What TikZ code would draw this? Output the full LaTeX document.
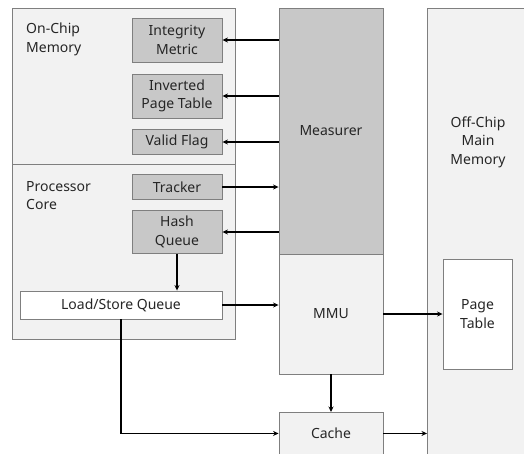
\documentclass[tikz,border=0pt]{standalone}
\usepackage{fontspec}
\setmainfont{Noto Sans}
\usetikzlibrary{arrows.meta}
\definecolor{lightbg}{HTML}{F2F2F2}
\definecolor{midgray}{HTML}{C8C8C8}
\definecolor{edgegray}{HTML}{7F7F7F}
\definecolor{txt}{HTML}{262626}
\tikzset{
  box/.style={draw=edgegray, line width=0.9pt, minimum width=#1, inner sep=0pt, align=center, text=txt, font=\fontsize{14}{18.5}\selectfont},
  graybox/.style={box=90pt, fill=midgray},
  conn/.style={line width=1.8pt, -{Stealth[length=5.5pt,width=5pt]}},
  lbl/.style={align=left, anchor=north west, inner sep=0pt, text=txt, font=\fontsize{14}{18.5}\selectfont}
}
\begin{document}
\begin{tikzpicture}[x=1pt,y=-1pt]
\useasboundingbox (0,0) rectangle (524,453);
\clip (0,0) rectangle (524,453);
\node[box=223pt, fill=lightbg, minimum height=156pt] (onchip) at (123.5,86) {};
\node[box=223pt, fill=lightbg, minimum height=175pt] (proc) at (123.5,251.5) {};
\node[lbl] (onchiplbl) at (26,23) {On-Chip\\Memory};
\node[lbl] (proclbl) at (26,181) {Processor\\Core};
\node[graybox, minimum height=44pt] (im) at (177,40) {Integrity\\Metric};
\node[graybox, minimum height=44pt] (ipt) at (177,96) {Inverted\\Page Table};
\node[graybox, minimum height=25pt] (vf) at (177,142) {Valid Flag};
\node[graybox, minimum height=25pt] (tr) at (177,187) {Tracker};
\node[graybox, minimum height=43pt] (hq) at (177,232) {Hash\\Queue};
\node[box=202pt, fill=white, minimum height=28pt] (lsq) at (121,305) {Load/Store Queue};
\node[box=104pt, fill=midgray, minimum height=246pt] (meas) at (331,131) {Measurer};
\node[box=104pt, fill=lightbg, minimum height=120pt] (mmu) at (331,314) {MMU};
\node[box=104pt, fill=lightbg, minimum height=42pt, anchor=north] (cache) at (331,412) {Cache};
\node[box=120pt, fill=lightbg, minimum height=460pt, anchor=north west] (off) at (427,8) {};
\node[box=0pt, draw=none, anchor=center] (offlbl) at (478,142) {Off-Chip\\Main\\Memory};
\node[box=69pt, fill=white, minimum height=110pt] (pt) at (477.5,314) {Page\\Table};
\draw[conn] (im.east -| meas.west) -- (im.east);
\draw[conn] (ipt.east -| meas.west) -- (ipt.east);
\draw[conn] (vf.east -| meas.west) -- (vf.east);
\draw[conn] (tr.east) -- (tr.east -| meas.west);
\draw[conn] (hq.east -| meas.west) -- (hq.east);
\draw[conn] (hq.south) -- (hq.south |- lsq.north);
\draw[conn] (lsq.east) -- (lsq.east -| mmu.west);
\draw[conn] (lsq.south) |- (cache.west);
\draw[conn] (mmu.south) -- (cache.north);
\draw[conn] (mmu.east) -- (pt.west);
\draw[conn] (cache.east) -- (cache.east -| off.west);
\end{tikzpicture}
\end{document}
